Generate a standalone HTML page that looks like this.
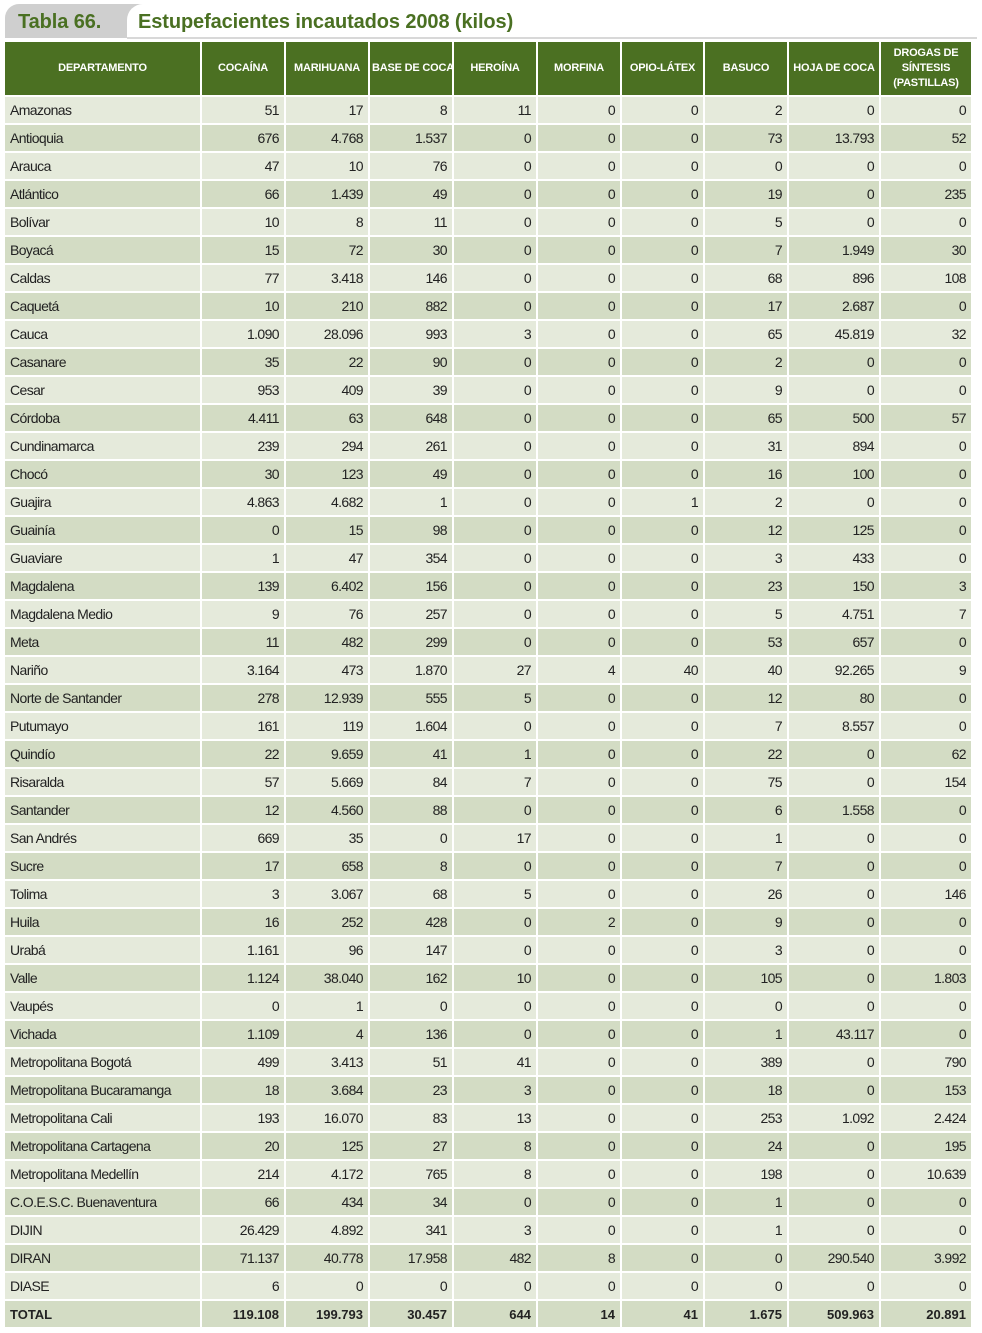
<!DOCTYPE html>
<html><head><meta charset="utf-8">
<style>
body{margin:0;background:#fff;width:982px;height:1333px;overflow:hidden;position:relative;font-family:"Liberation Sans Narrow","Liberation Sans",sans-serif;}
#title-bar{position:absolute;left:5px;top:4px;width:972px;height:34px;}
#tab-gray{position:absolute;left:0;top:0;width:150px;height:34px;background:#cfcfcf;border-radius:14px 0 0 0;}
#tab-white{position:absolute;left:122px;top:0;right:0;height:34px;background:#fff;border-radius:16px 0 0 0;}
#tab-line{position:absolute;left:122px;right:0;top:33px;height:2px;background:#d8d8d8;}
.tt{position:absolute;top:7px;font-family:"Liberation Sans",sans-serif;font-weight:bold;font-size:20px;color:#4a7022;letter-spacing:-0.1px;}
table{position:absolute;left:5px;top:42px;border-collapse:collapse;table-layout:fixed;width:967px;}
td,th{border:2px solid #fff;padding:0 5px;font-size:14px;color:#222;white-space:nowrap;overflow:hidden;letter-spacing:-0.6px;}
th{background:#4b7022;color:#fff;font-size:11px;font-weight:bold;height:53px;line-height:15px;text-align:center;border-top:0;padding:0 2px;letter-spacing:-0.2px;}
th:first-child,td:first-child{border-left:0;}
td{height:26px;text-align:right;}
td:first-child{text-align:left;}
tr.l td{background:#e5eadb;}
tr.d td{background:#d3dcc4;}
tr.tot td{font-weight:bold;font-family:"Liberation Sans",sans-serif;font-size:13px;letter-spacing:0;}
</style></head><body>
<div id="title-bar">
<div id="tab-gray"></div>
<div id="tab-white"></div>
<div id="tab-line"></div>
<div class="tt" style="left:13px">Tabla 66.</div>
<div class="tt" style="left:133px">Estupefacientes incautados 2008 (kilos)</div>
</div>
<table id="tbl">
<colgroup><col style="width:196px"><col style="width:84px"><col style="width:84px"><col style="width:84px"><col style="width:84px"><col style="width:84px"><col style="width:83px"><col style="width:84px"><col style="width:92px"><col style="width:92px"></colgroup>
<thead><tr>
<th>DEPARTAMENTO</th>
<th>COCAÍNA</th>
<th>MARIHUANA</th>
<th>BASE DE COCA</th>
<th>HEROÍNA</th>
<th>MORFINA</th>
<th>OPIO-LÁTEX</th>
<th>BASUCO</th>
<th>HOJA DE COCA</th>
<th>DROGAS DE<br>SÍNTESIS<br>(PASTILLAS)</th>
</tr></thead>
<tbody id="tb"></tbody>
</table>
<script>
const departments=["Amazonas","Antioquia","Arauca","Atlántico","Bolívar","Boyacá","Caldas","Caquetá","Cauca","Casanare","Cesar","Córdoba","Cundinamarca","Chocó","Guajira","Guainía","Guaviare","Magdalena","Magdalena Medio","Meta","Nariño","Norte de Santander","Putumayo","Quindío","Risaralda","Santander","San Andrés","Sucre","Tolima","Huila","Urabá","Valle","Vaupés","Vichada","Metropolitana Bogotá","Metropolitana Bucaramanga","Metropolitana Cali","Metropolitana Cartagena","Metropolitana Medellín","C.O.E.S.C. Buenaventura","DIJIN","DIRAN","DIASE","TOTAL"];
const cocaina=["51","676","47","66","10","15","77","10","1.090","35","953","4.411","239","30","4.863","0","1","139","9","11","3.164","278","161","22","57","12","669","17","3","16","1.161","1.124","0","1.109","499","18","193","20","214","66","26.429","71.137","6","119.108"];
const marihuana=["17","4.768","10","1.439","8","72","3.418","210","28.096","22","409","63","294","123","4.682","15","47","6.402","76","482","473","12.939","119","9.659","5.669","4.560","35","658","3.067","252","96","38.040","1","4","3.413","3.684","16.070","125","4.172","434","4.892","40.778","0","199.793"];
const baseCoca=["8","1.537","76","49","11","30","146","882","993","90","39","648","261","49","1","98","354","156","257","299","1.870","555","1.604","41","84","88","0","8","68","428","147","162","0","136","51","23","83","27","765","34","341","17.958","0","30.457"];
const heroina=["11","0","0","0","0","0","0","0","3","0","0","0","0","0","0","0","0","0","0","0","27","5","0","1","7","0","17","0","5","0","0","10","0","0","41","3","13","8","8","0","3","482","0","644"];
const morfina=["0","0","0","0","0","0","0","0","0","0","0","0","0","0","0","0","0","0","0","0","4","0","0","0","0","0","0","0","0","2","0","0","0","0","0","0","0","0","0","0","0","8","0","14"];
const opio=["0","0","0","0","0","0","0","0","0","0","0","0","0","0","1","0","0","0","0","0","40","0","0","0","0","0","0","0","0","0","0","0","0","0","0","0","0","0","0","0","0","0","0","41"];
const basuco=["2","73","0","19","5","7","68","17","65","2","9","65","31","16","2","12","3","23","5","53","40","12","7","22","75","6","1","7","26","9","3","105","0","1","389","18","253","24","198","1","1","0","0","1.675"];
const hojaCoca=["0","13.793","0","0","0","1.949","896","2.687","45.819","0","0","500","894","100","0","125","433","150","4.751","657","92.265","80","8.557","0","0","1.558","0","0","0","0","0","0","0","43.117","0","0","1.092","0","0","0","0","290.540","0","509.963"];
const sintesis=["0","52","0","235","0","30","108","0","32","0","0","57","0","0","0","0","0","3","7","0","9","0","0","62","154","0","0","0","146","0","0","1.803","0","0","790","153","2.424","195","10.639","0","0","3.992","0","20.891"];
const cols=[cocaina,marihuana,baseCoca,heroina,morfina,opio,basuco,hojaCoca,sintesis];
const colNames=["cocaina","marihuana","base-de-coca","heroina","morfina","opio-latex","basuco","hoja-de-coca","drogas-sintesis"];
const tb=document.getElementById('tb');
departments.forEach((d,i)=>{
  const tr=document.createElement('tr');
  tr.className=(i%2===0?'l':'d')+(d==='TOTAL'?' tot':'');
  
  
  const td0=document.createElement('td');
  td0.textContent=d;
  
  
  tr.appendChild(td0);
  cols.forEach((c,j)=>{
    const td=document.createElement('td');
    td.textContent=c[i];
    
    
    tr.appendChild(td);
  });
  tb.appendChild(tr);
});
</script>
</body></html>
